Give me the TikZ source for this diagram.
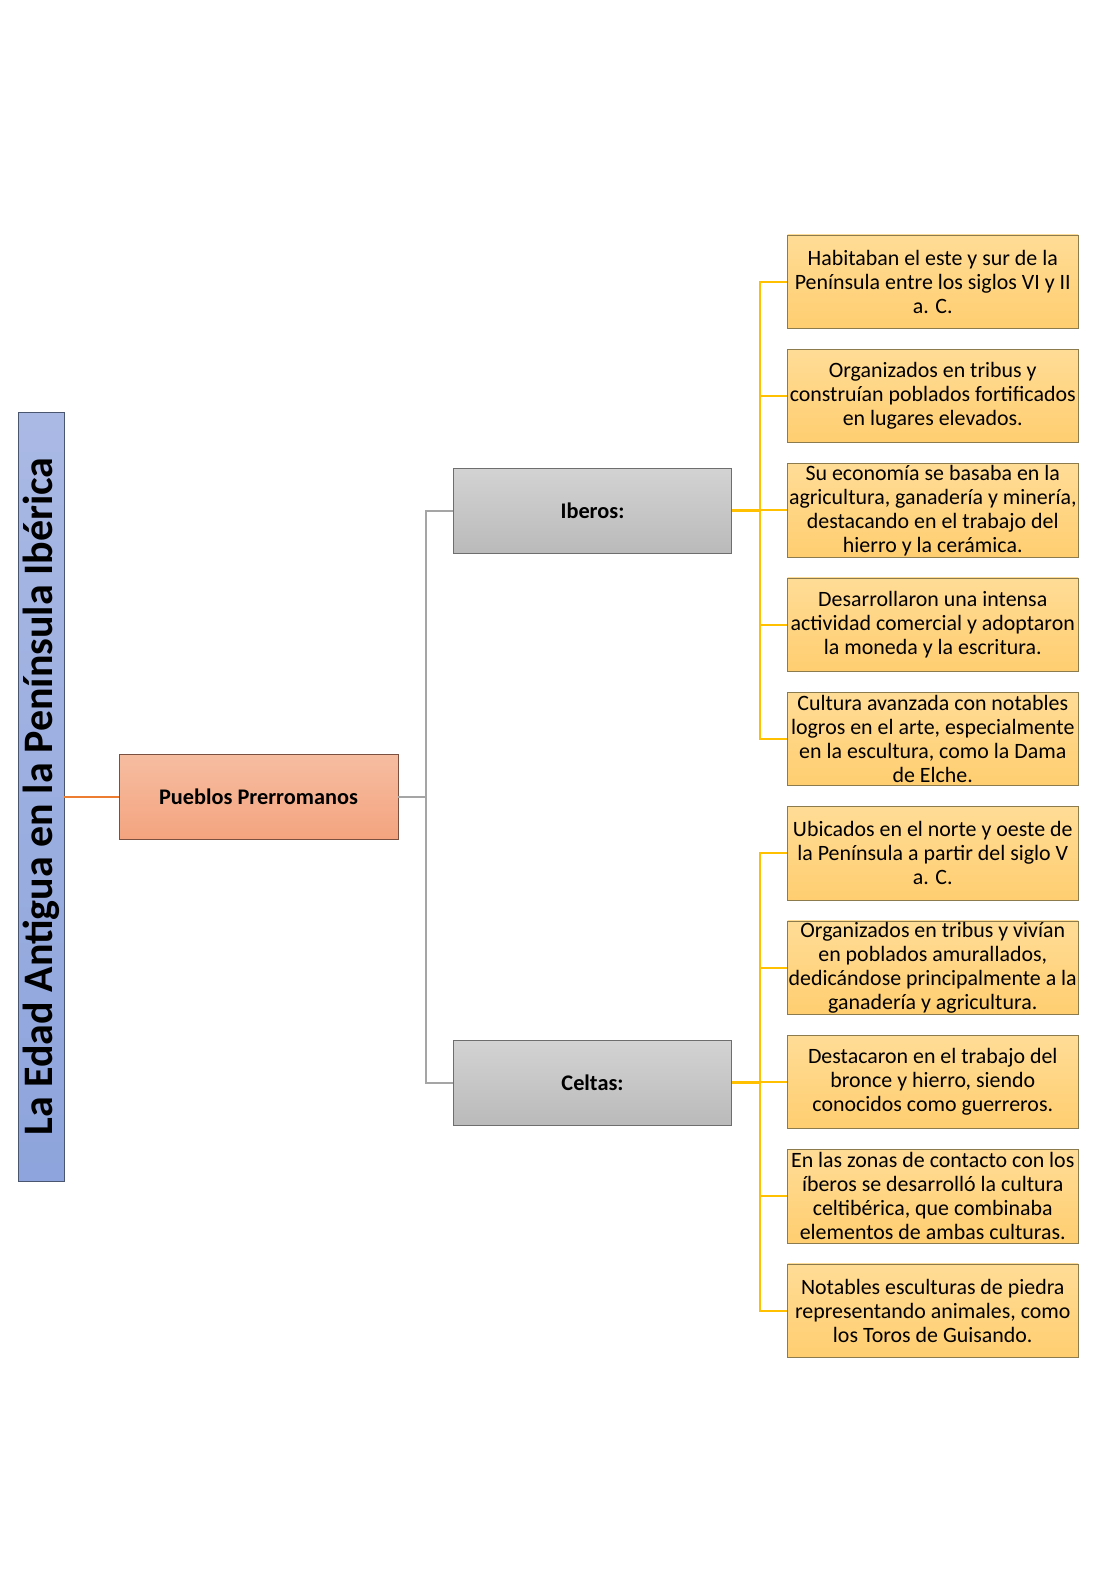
\documentclass[tikz,border=0pt]{standalone}
\usepackage{fontspec}
\setmainfont{Carlito}
\begin{document}
\begin{tikzpicture}[x=1pt,y=-1pt,
  leaf/.style={draw=leafborder,line width=0.8pt,top color=leaftop,bottom color=leafbot,
    minimum width=290.5pt,minimum height=93.5pt,inner sep=0pt,align=center,
    font=\fontsize{21.9}{24}\selectfont},
  grp/.style={draw=grayborder,line width=0.8pt,top color=graytop,bottom color=graybot,
    minimum width=278.5pt,minimum height=85pt,inner sep=0pt,
    font=\fontsize{22.3}{26}\selectfont\bfseries},
  ylink/.style={draw=linkyellow,line width=2pt},
  glink/.style={draw=linkgray,line width=2pt},
]
\definecolor{leaftop}{HTML}{FFDC96}
\definecolor{leafbot}{HTML}{FFCE70}
\definecolor{leafborder}{HTML}{8C7B4C}
\definecolor{graytop}{HTML}{D3D3D3}
\definecolor{graybot}{HTML}{BABABA}
\definecolor{grayborder}{HTML}{6E6E6E}
\definecolor{pptop}{HTML}{F6BDA1}
\definecolor{ppbot}{HTML}{F4A47F}
\definecolor{ppborder}{HTML}{7A5040}
\definecolor{titletop}{HTML}{AAB9E4}
\definecolor{titlebot}{HTML}{8DA4DC}
\definecolor{titleborder}{HTML}{4A5570}
\definecolor{linkyellow}{HTML}{FFC000}
\definecolor{linkgray}{HTML}{A5A5A5}
\definecolor{linkorange}{HTML}{ED7D31}
\useasboundingbox[fill=white] (0,0) rectangle (1095,1594);

\node[draw=titleborder,line width=0.8pt,top color=titletop,bottom color=titlebot,
  minimum width=46pt,minimum height=769pt,inner sep=0pt] (title) at (41,796.5) {};
\node[rotate=90,inner sep=0pt,font=\fontsize{42}{46}\selectfont\bfseries] (titletext)
  at (title.center) {La Edad Antigua en la Península Ibérica};

\node[draw=ppborder,line width=0.8pt,top color=pptop,bottom color=ppbot,
  minimum width=279pt,minimum height=85pt,inner sep=0pt,
  font=\fontsize{22.3}{26}\selectfont\bfseries] (pp) at (258.5,796.5) {Pueblos Prerromanos};

\node[grp] (ib) at (592.5,510.5) {Iberos:};
\node[grp] (ce) at (592.5,1082.5) {Celtas:};

\node[leaf] (l1) at (932.75,281.75) {Habitaban el este y sur de la\\Península entre los siglos VI y II\\a. C.};
\node[leaf] (l2) at (932.75,396.08) {Organizados en tribus y\\construían poblados fortificados\\en lugares elevados.};
\node[leaf] (l3) at (932.75,510.41) {Su economía se basaba en la\\agricultura, ganadería y minería,\\destacando en el trabajo del\\hierro y la cerámica.};
\node[leaf] (l4) at (932.75,624.74) {Desarrollaron una intensa\\actividad comercial y adoptaron\\la moneda y la escritura.};
\node[leaf] (l5) at (932.75,739.07) {Cultura avanzada con notables\\logros en el arte, especialmente\\en la escultura, como la Dama\\de Elche.};
\node[leaf] (l6) at (932.75,853.4) {Ubicados en el norte y oeste de\\la Península a partir del siglo V\\a. C.};
\node[leaf] (l7) at (932.75,967.73) {Organizados en tribus y vivían\\en poblados amurallados,\\dedicándose principalmente a la\\ganadería y agricultura.};
\node[leaf] (l8) at (932.75,1082.06) {Destacaron en el trabajo del\\bronce y hierro, siendo\\conocidos como guerreros.};
\node[leaf] (l9) at (932.75,1196.39) {En las zonas de contacto con los\\íberos se desarrolló la cultura\\celtibérica, que combinaba\\elementos de ambas culturas.};
\node[leaf] (l10) at (932.75,1310.72) {Notables esculturas de piedra\\representando animales, como\\los Toros de Guisando.};

% connectors
\draw[linkorange,line width=2pt] (title.east) -- (pp.west);
\draw[glink] (pp.east) -- ++(27.5,0) coordinate (gj);
\draw[glink] (gj) |- (ib.west);
\draw[glink] (gj) |- (ce.west);

\draw[ylink,line width=3pt] (ib.east) -- ++(28,0) coordinate (yj1);
\draw[ylink,line width=3pt] (ce.east) -- ++(28,0) coordinate (yj2);
\foreach \n in {1,...,5} {\draw[ylink] (yj1) |- (l\n.west);}
\foreach \n in {6,...,10} {\draw[ylink] (yj2) |- (l\n.west);}
\end{tikzpicture}
\end{document}
